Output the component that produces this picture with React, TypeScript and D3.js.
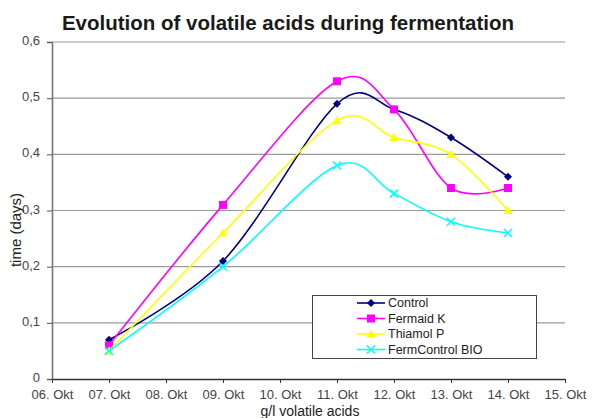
import React, { useEffect, useRef } from 'react';
import * as d3 from 'd3';

// days on the x axis (06. Okt .. 15. Okt)
const dayTicks = [6, 7, 8, 9, 10, 11, 12, 13, 14, 15];
const sampleDays = [7, 9, 11, 12, 13, 14];
const yTicks = [0, 0.1, 0.2, 0.3, 0.4, 0.5, 0.6];

const controlValues = [0.07, 0.21, 0.49, 0.48, 0.43, 0.36];
const fermaidValues = [0.06, 0.31, 0.53, 0.48, 0.34, 0.34];
const thiamolValues = [0.05, 0.26, 0.46, 0.43, 0.40, 0.30];
const fermControlValues = [0.05, 0.20, 0.38, 0.33, 0.28, 0.26];

const seriesNames = ['Control', 'Fermaid K', 'Thiamol P', 'FermControl BIO'];
const seriesColors = ['#000080', '#FF00FF', '#FFFF00', '#00FFFF'];
const seriesMarkers = ['diamond', 'square', 'triangle', 'cross'];

const App = () => {
  const svgRef = useRef<SVGSVGElement>(null);

  useEffect(() => {
    const svg = d3.select(svgRef.current);
    svg.selectAll('*').remove();

    const width = 592;
    const height = 418;
    const margin = { top: 42, right: 27, bottom: 39, left: 52 };
    const font = 'Liberation Sans, Arial, sans-serif';

    const x = d3.scaleLinear().domain([6, 15]).range([margin.left, width - margin.right]);
    const y = d3.scaleLinear().domain([0, 0.6]).range([height - margin.bottom, margin.top]);

    svg.attr('width', width).attr('height', height).style('background', '#fff');

    // title
    svg.append('text')
      .attr('x', 288)
      .attr('y', 30)
      .attr('text-anchor', 'middle')
      .style('font', `bold 20.5px ${font}`)
      .attr('fill', '#1a1a1a')
      .text('Evolution of volatile acids during fermentation');

    // gridlines
    svg.append('g')
      .selectAll('line')
      .data(yTicks.slice(1))
      .join('line')
      .attr('x1', x(6))
      .attr('x2', x(15))
      .attr('y1', (d) => y(d))
      .attr('y2', (d) => y(d))
      .attr('stroke', '#9a9a9a')
      .attr('stroke-width', 1.2);

    // y axis
    const yAxis = svg.append('g')
      .attr('transform', `translate(${margin.left},0)`)
      .call(d3.axisLeft(y).tickValues(yTicks).tickSize(5).tickFormat((d) => d3.format('.1f')(+d).replace('.', ',').replace(/^0,0$/, '0')));
    yAxis.select('.domain').attr('stroke', '#777').attr('stroke-width', 1.6);
    yAxis.selectAll('.tick line').attr('stroke', '#555');
    yAxis.selectAll('.tick text')
      .attr('fill', '#444')
      .attr('x', -12)
      .attr('dy', '0.2em')
      .style('font', `13px ${font}`);

    // x axis
    const xAxis = svg.append('g')
      .attr('transform', `translate(0,${y(0)})`)
      .call(d3.axisBottom(x).tickValues(dayTicks).tickSize(4).tickSizeOuter(0).tickFormat((d) => `${d3.format('02d')(+d)}. Okt`));
    xAxis.select('.domain').attr('stroke', '#333').attr('stroke-width', 1.6);
    xAxis.selectAll('.tick line').attr('stroke', '#333');
    xAxis.selectAll('.tick text')
      .attr('fill', '#444')
      .attr('y', 8)
      .attr('dy', '0.9em')
      .style('font', `13px ${font}`);

    // axis titles
    svg.append('text')
      .attr('transform', `translate(21,230) rotate(-90)`)
      .attr('text-anchor', 'middle')
      .style('font', `15px ${font}`)
      .attr('fill', '#222')
      .text('time (days)');

    svg.append('text')
      .attr('x', 310)
      .attr('y', 416)
      .attr('text-anchor', 'middle')
      .style('font', `14px ${font}`)
      .attr('fill', '#222')
      .text('g/l volatile acids');

    const allValues = [controlValues, fermaidValues, thiamolValues, fermControlValues];

    const line = d3.line<number>()
      .x((d, i) => x(sampleDays[i]))
      .y((d) => y(d))
      .curve(d3.curveCatmullRom.alpha(0));

    const drawMarker = (g, kind, color, cx, cy) => {
      if (kind === 'diamond') {
        g.append('path')
          .attr('d', `M${cx},${cy - 4}L${cx + 4},${cy}L${cx},${cy + 4}L${cx - 4},${cy}Z`)
          .attr('fill', color);
      } else if (kind === 'square') {
        g.append('rect')
          .attr('x', cx - 4).attr('y', cy - 4)
          .attr('width', 8).attr('height', 8)
          .attr('fill', color);
      } else if (kind === 'triangle') {
        g.append('path')
          .attr('d', `M${cx},${cy - 4.5}L${cx + 4.5},${cy + 3.5}L${cx - 4.5},${cy + 3.5}Z`)
          .attr('fill', color);
      } else {
        g.append('path')
          .attr('d', `M${cx - 4},${cy - 4}L${cx + 4},${cy + 4}M${cx - 4},${cy + 4}L${cx + 4},${cy - 4}`)
          .attr('stroke', color)
          .attr('stroke-width', 1.5)
          .attr('fill', 'none');
      }
    };

    const seriesG = svg.append('g');
    allValues.forEach((vals, k) => {
      const g = seriesG.append('g');
      g.append('path')
        .datum(vals)
        .attr('d', line)
        .attr('fill', 'none')
        .attr('stroke', seriesColors[k])
        .attr('stroke-width', 1.6);
      vals.forEach((v, i) => drawMarker(g, seriesMarkers[k], seriesColors[k], x(sampleDays[i]), y(v)));
    });

    // legend
    const legend = svg.append('g');
    legend.append('rect')
      .attr('x', 312.5).attr('y', 295.5)
      .attr('width', 224).attr('height', 63)
      .attr('fill', '#fff')
      .attr('stroke', '#444')
      .attr('stroke-width', 1);
    seriesNames.forEach((name, k) => {
      const ly = 303 + k * 15.5;
      legend.append('line')
        .attr('x1', 357).attr('x2', 385)
        .attr('y1', ly).attr('y2', ly)
        .attr('stroke', seriesColors[k])
        .attr('stroke-width', 1.6);
      drawMarker(legend, seriesMarkers[k], seriesColors[k], 371, ly);
      legend.append('text')
        .attr('x', 388)
        .attr('y', ly)
        .attr('dy', '0.35em')
        .style('font', `12.5px ${font}`)
        .attr('fill', '#222')
        .text(name);
    });
  }, []);

  return (
    <div style={{ position: 'absolute', left: 0, top: 0 }}>
      <svg ref={svgRef} style={{ display: 'block' }} />
    </div>
  );
};

export default App;
